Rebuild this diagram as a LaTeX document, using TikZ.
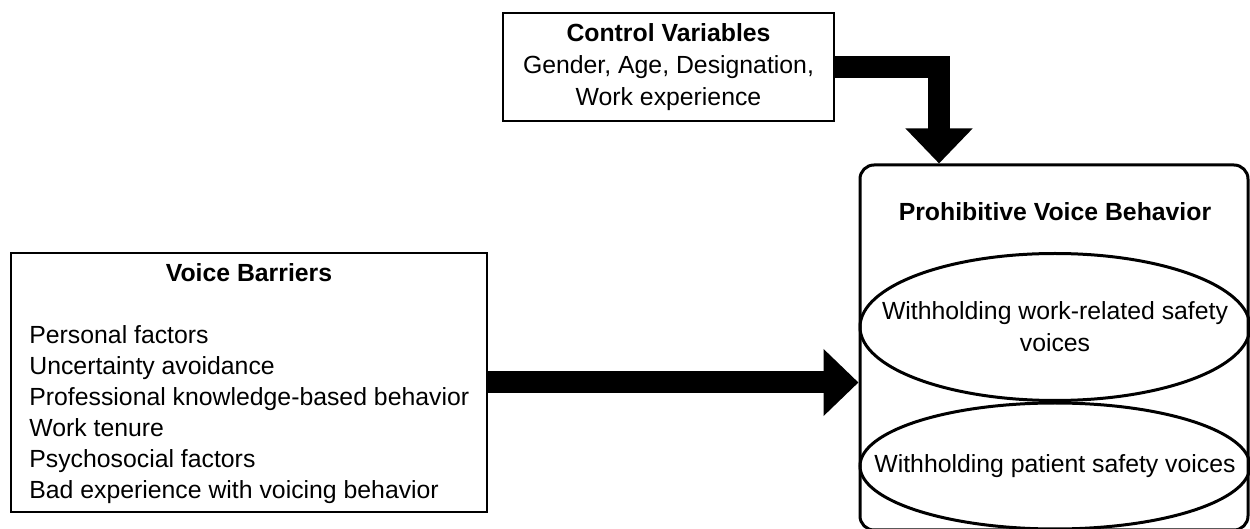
\documentclass[tikz,border=0pt]{standalone}
\usepackage{fontspec}
\setmainfont{Liberation Sans}
\usetikzlibrary{arrows.meta, calc}

\tikzset{
  box/.style={draw, line width=1pt, rectangle, inner sep=0pt},
  bigbox/.style={draw, line width=1.5pt, rectangle, rounded corners=7pt, inner sep=0pt},
  txt/.style={inner sep=0pt, align=center},
  fat/.style={line width=11pt, -{Triangle[width=32.5pt, length=17.5pt]}},
}

\begin{document}
\begin{tikzpicture}[x=0.5pt, y=-0.5pt, font=\fontsize{12.4}{16}\selectfont]
  \useasboundingbox (0,0) rectangle (1250,529);
  \clip (0,0) rectangle (1250,529);

  % control variables
  \node[box, minimum width=165.5pt, minimum height=54pt, align=center] (ctrl) at (668.5,67)
    {\textbf{Control Variables}\\Gender, Age, Designation,\\Work experience};

  % voice barriers
  \node[box, minimum width=238pt, minimum height=129.5pt] (vb) at (249,382.5) {};
  \node[txt] (vbtitle) at (249,273) {\textbf{Voice Barriers}};
  \foreach \txt [count=\i from 0] in {Personal factors, Uncertainty avoidance,
      Professional knowledge-based behavior, Work tenure, Psychosocial factors,
      Bad experience with voicing behavior}
    \node[inner sep=0pt, anchor=base west] (vb\i) at (29,344+31*\i) {\txt};

  % prohibitive voice behavior
  \node[bigbox, minimum width=194pt, minimum height=182.5pt] (pvb) at (1054,347.5) {};
  \node[txt] (pvbtitle) at (1055,212) {\textbf{Prohibitive Voice Behavior}};
  \node[txt] (wrs) at (1055,327) {Withholding work-related safety\\voices};
  \draw[line width=1.5pt] (wrs.center) ellipse [x radius=97.5pt, y radius=36.75pt];
  \node[txt] (wps) at (1055,466) {Withholding patient safety voices};
  \draw[line width=1.5pt] (wps.center) ellipse [x radius=97.5pt, y radius=31.5pt];

  % arrows
  \coordinate (ctrlin) at ($(pvb.north west)!0.206!(pvb.north east)$);
  \draw[fat] (ctrl.east) -| (ctrlin);
  \draw[fat] (vb.east) -- (vb.east -| pvb.west);
\end{tikzpicture}
\end{document}
